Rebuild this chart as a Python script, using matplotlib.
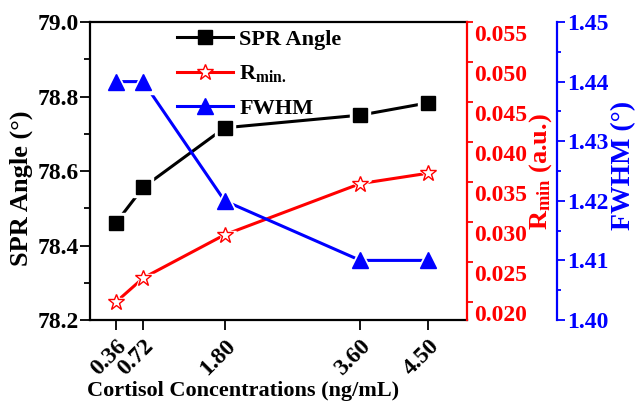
import matplotlib
matplotlib.use("Agg")
import matplotlib.pyplot as plt
import numpy as np
from matplotlib.transforms import ScaledTranslation

SERIF = ["Liberation Serif", "DejaVu Serif"]
plt.rcParams["font.family"] = SERIF
plt.rcParams["font.weight"] = "bold"
plt.rcParams["mathtext.fontset"] = "custom"
plt.rcParams["mathtext.rm"] = "Liberation Serif:bold"
plt.rcParams["mathtext.it"] = "Liberation Serif:bold"
plt.rcParams["mathtext.bf"] = "Liberation Serif:bold"

# data
concentrations = [0.36, 0.72, 1.80, 3.60, 4.50]
x_ticklabels = ["0.36", "0.72", "1.80", "3.60", "4.50"]
spr_angle = [78.461, 78.556, 78.716, 78.750, 78.783]
r_min = [0.0200, 0.0230, 0.0284, 0.0348, 0.0361]
fwhm = [1.44, 1.44, 1.42, 1.41, 1.41]

spr_ticks = [78.2, 78.4, 78.6, 78.8, 79.0]
rmin_ticks = [0.020, 0.025, 0.030, 0.035, 0.040, 0.045, 0.050, 0.055]
fwhm_ticks = [1.40, 1.41, 1.42, 1.43, 1.44, 1.45]

RED = "#ff0000"
BLUE = "#0000ff"
TICK_FS = 17
LW = 2.2

fig = plt.figure(figsize=(6.36, 4.07), dpi=100)
ax = fig.add_axes([90 / 636, 1 - 320 / 407, 377 / 636, 298 / 407])
ax2 = ax.twinx()
ax3 = ax.twinx()


def gapped_plot(axis, y, color, marker, ms, mfc, label):
    # Origin style: line stops short of each marker
    axis.plot(concentrations, y, color=color, lw=LW, zorder=2)
    axis.plot(concentrations, y, ls="none", marker=marker, ms=ms + 5,
              mfc="white", mec="white", zorder=3)
    axis.plot(concentrations, y, ls="none", marker=marker, ms=ms,
              mfc=mfc, mec=color, mew=1.0, zorder=4)
    return axis.plot([], [], color=color, lw=LW, marker=marker, ms=ms,
                     mfc=mfc, mec=color, mew=1.0, label=label)[0]


h1 = gapped_plot(ax, spr_angle, "black", "s", 9.5, "black", "SPR Angle")
h2 = gapped_plot(ax2, r_min, RED, "*", 12, "white", r"R$_{\mathbf{min.}}$")
h3 = gapped_plot(ax3, fwhm, BLUE, "^", 12, BLUE, "FWHM")

# x axis
ax.set_xlim(0.015, 5.015)
ax.set_xticks(concentrations)
ax.set_xticklabels(x_ticklabels, rotation=45, ha="right", rotation_mode="anchor",
                   fontsize=TICK_FS, fontweight="bold", family=SERIF)
ax.tick_params(axis="x", direction="out", length=7, width=1.3, pad=4)

# left axis
ax.set_ylim(78.2, 79.0)
ax.set_yticks(spr_ticks)
ax.set_yticks(np.arange(78.3, 79.0, 0.2), minor=True)
ax.set_yticklabels([f"{v:.1f}" for v in spr_ticks], fontsize=TICK_FS,
                   fontweight="bold", family=SERIF)
ax.tick_params(axis="y", which="major", direction="out", length=7, width=1.3, pad=1)
ax.tick_params(axis="y", which="minor", direction="out", length=4, width=1.3)
ax.spines["right"].set_visible(False)
for s in ["left", "bottom", "top"]:
    ax.spines[s].set_linewidth(1.6)

# red axis
ax2.set_ylim(0.01775, 0.055)
ax2.set_yticks(rmin_ticks)
ax2.set_yticklabels([f"{v:.3f}" for v in rmin_ticks], fontsize=TICK_FS,
                    fontweight="bold", color=RED, family=SERIF)
ax2.tick_params(axis="y", direction="out", length=4, width=1.3, color=RED, pad=1)
for s in ["left", "top", "bottom"]:
    ax2.spines[s].set_visible(False)
ax2.spines["right"].set_color(RED)
ax2.spines["right"].set_linewidth(1.6)
shift = ScaledTranslation(0, -11 / 100, fig.dpi_scale_trans)
for lab in ax2.get_yticklabels():
    lab.set_transform(lab.get_transform() + shift)

# blue axis
ax3.spines["right"].set_position(("axes", (557 - 90) / 377))
ax3.set_ylim(1.40, 1.45)
ax3.set_yticks(fwhm_ticks)
ax3.set_yticks(np.arange(1.405, 1.45, 0.01), minor=True)
ax3.set_yticklabels([f"{v:.2f}" for v in fwhm_ticks], fontsize=TICK_FS,
                    fontweight="bold", color=BLUE, family=SERIF)
ax3.tick_params(axis="y", which="major", direction="out", length=6, width=1.3,
                color=BLUE, pad=1)
ax3.tick_params(axis="y", which="minor", direction="out", length=3, width=1.3,
                color=BLUE)
for s in ["left", "top", "bottom"]:
    ax3.spines[s].set_visible(False)
ax3.spines["right"].set_color(BLUE)
ax3.spines["right"].set_linewidth(1.6)

# axis titles
fig.text(243 / 636, 1 - 391 / 407, "Cortisol Concentrations (ng/mL)", fontsize=16,
         fontweight="bold", ha="center", va="center")
fig.text(21 / 636, 1 - 188 / 407, "SPR Angle (°)", fontsize=19, fontweight="bold",
         rotation=90, ha="center", va="center")
fig.text(541 / 636, 1 - 172 / 407, r"R$_{\mathbf{min}}$ (a.u.)", fontsize=19,
         fontweight="bold", rotation=90, ha="center", va="center", color=RED)
fig.text(624 / 636, 1 - 165 / 407, "FWHM (°)", fontsize=20, fontweight="bold",
         rotation=90, ha="center", va="center", color=BLUE)

ax3.legend(handles=[h1, h2, h3], loc="upper left", frameon=False,
           bbox_to_anchor=(177 / 636, 1 - 29 / 407), bbox_transform=fig.transFigure,
           borderpad=0, borderaxespad=0, handlelength=2.5, handletextpad=0.3,
           labelspacing=0.62,
           prop={"family": "Liberation Serif", "weight": "bold", "size": 16})

fig.savefig("out.png", dpi=100)
